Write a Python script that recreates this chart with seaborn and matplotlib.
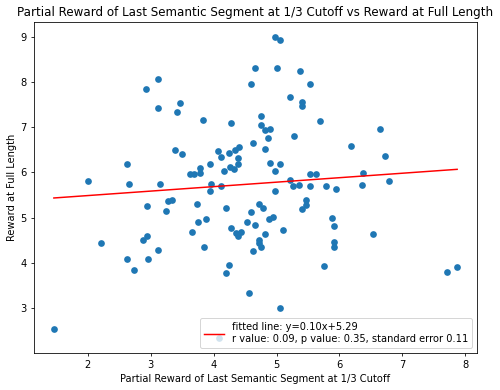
import numpy as np
import pandas as pd
import matplotlib
matplotlib.use("Agg")
import matplotlib.pyplot as plt
import seaborn as sns

# --- Data ---
partial_reward = [
    3.11, 2.93, 3.46, 3.11, 3.41, 3.39, 3.49, 2.63, 2.00, 2.65,
    3.15, 2.94, 3.27, 3.34, 3.24, 3.66, 2.21, 2.94, 2.88, 3.12,
    2.63, 2.95, 2.74, 1.46, 4.97, 5.06, 4.66, 5.00, 5.38, 4.59,
    5.53, 5.22, 5.41, 5.41, 3.83, 4.28, 5.69, 4.75, 4.75, 4.82,
    4.90, 4.87, 5.28, 4.62, 4.81, 4.07, 4.12, 4.25, 4.34, 4.41,
    4.38, 4.38, 4.26, 4.32, 3.94, 3.79, 3.79, 3.62, 3.69, 4.16,
    4.90, 5.06, 4.97, 5.22, 5.53, 5.63, 3.96, 4.12, 5.26, 5.35,
    5.53, 5.78, 3.94, 4.97, 5.47, 5.47, 5.41, 3.73, 4.19, 4.72,
    4.78, 4.59, 3.75, 3.88, 4.53, 4.66, 4.88, 4.94, 4.28, 4.35,
    4.39, 4.44, 4.81, 5.10, 4.72, 4.72, 4.75, 3.84, 4.63, 4.25,
    4.19, 5.75, 4.56, 5.06, 6.65, 6.19, 6.72, 6.38, 5.94, 6.35,
    6.78, 5.88, 5.91, 6.53, 5.91, 5.91, 7.71, 7.87, 4.08,
]
full_reward = [
    8.06, 7.84, 7.53, 7.43, 7.34, 6.50, 6.40, 6.18, 5.81, 5.75,
    5.75, 5.25, 5.37, 5.40, 5.15, 4.68, 4.44, 4.59, 4.50, 4.28,
    4.09, 4.09, 3.83, 2.53, 9.00, 8.93, 8.31, 8.31, 8.24, 7.97,
    7.97, 7.68, 7.56, 7.47, 7.16, 7.09, 7.13, 7.24, 7.06, 6.95,
    6.96, 6.77, 6.81, 6.65, 6.53, 6.47, 6.34, 6.43, 6.49, 6.56,
    6.32, 6.19, 6.12, 6.08, 6.18, 6.09, 5.99, 5.96, 5.96, 6.03,
    6.21, 6.18, 6.03, 5.84, 5.96, 5.96, 5.75, 5.70, 5.70, 5.72,
    5.71, 5.69, 5.58, 5.58, 5.40, 5.27, 5.18, 5.31, 5.21, 5.31,
    5.21, 5.12, 4.90, 4.96, 4.90, 4.84, 4.96, 5.02, 4.77, 4.66,
    4.60, 4.68, 4.63, 4.72, 4.50, 4.43, 4.34, 4.34, 4.25, 3.95,
    3.78, 3.93, 3.33, 3.00, 6.96, 6.59, 6.37, 5.99, 5.64, 5.72,
    5.81, 4.99, 4.81, 4.63, 4.47, 4.34, 3.80, 3.90, 2.34,
]

# fitted line parameters shown in the legend
slope = 0.099
intercept = 5.29
fit_label = ("fitted line: y=0.10x+5.29\n"
             "r value: 0.09, p value: 0.35, standard error 0.11")

df = pd.DataFrame({"partial": partial_reward, "full": full_reward})

# --- Plot ---
fig = plt.figure(figsize=(7.0, 5.46), dpi=71.43)
ax = fig.add_axes([0.0674, 0.0956, 0.8872, 0.848])

sns.scatterplot(data=df, x="partial", y="full", ax=ax,
                color="#1f77b4", s=46, linewidth=0)

fit_x = np.array([df["partial"].min(), df["partial"].max()])
fit_y = intercept + slope * fit_x
sns.lineplot(x=fit_x, y=fit_y, ax=ax, color="red", label=fit_label)

ax.set_title("Partial Reward of Last Semantic Segment at 1/3 Cutoff vs Reward at Full Length",
             fontsize=12)
ax.set_xlabel("Partial Reward of Last Semantic Segment at 1/3 Cutoff", fontsize=10)
ax.set_ylabel("Reward at Full Length", fontsize=10)
ax.legend(loc="lower right", fontsize=10)

fig.savefig("out.png", dpi=71.43)
